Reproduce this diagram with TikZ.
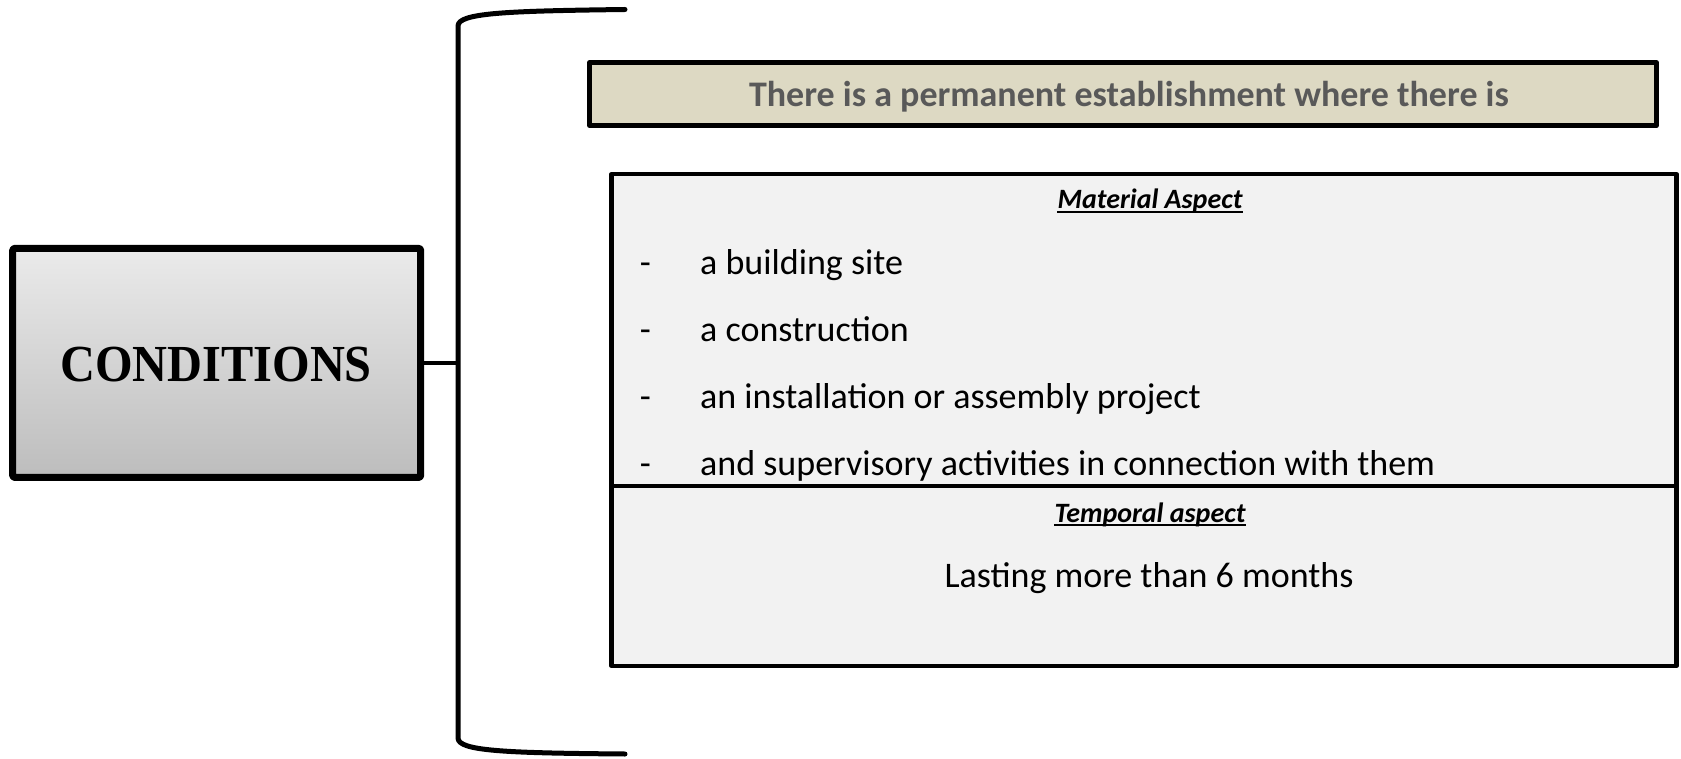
\documentclass[tikz,border=0pt]{standalone}
\usepackage{fontspec}
\usepackage{graphicx}
\setmainfont{Carlito}
\newfontfamily\condfont{Liberation Serif}
\usetikzlibrary{shadows}
\definecolor{titlefill}{HTML}{DDD9C3}
\definecolor{titletext}{HTML}{595959}
\definecolor{boxfill}{HTML}{F2F2F2}
\tikzset{
  softshadow/.style={drop shadow={shadow xshift=1.5pt,shadow yshift=-2.5pt,opacity=.35}},
  condbox/.style={draw,line width=7pt,rounded corners=1.5pt,top color=black!8,bottom color=black!26,
    minimum width=408,minimum height=229,inner sep=0pt,softshadow},
  titlebox/.style={draw,line width=4.5pt,fill=titlefill,minimum width=1067,minimum height=63,inner sep=0pt,softshadow},
  aspectbox/.style={draw,line width=4.5pt,fill=boxfill,minimum width=1065,inner sep=0pt},
  plaintxt/.style={font=\fontsize{36}{40}\selectfont,inner sep=0pt},
  headtxt/.style={font=\fontsize{28}{32}\selectfont\bfseries\itshape,inner sep=0pt,anchor=base},
}
\begin{document}
\begin{tikzpicture}[x=1pt,y=-1pt,line join=round,line cap=round]
\useasboundingbox (0,0) rectangle (1681,759);
% left box and brace
\node[condbox] (cond) at (216.7,362.9) {};
\node[anchor=base,inner sep=0pt,font=\fontsize{52}{56}\selectfont\condfont\bfseries] (condtxt) at (216,381.7) {\scalebox{.93}[1]{CONDITIONS}};
\coordinate (bracetop) at (458,26);
\coordinate (bracebot) at (458,738);
\draw[line width=5pt] (625,9.5) .. controls (505,11) and (458,13) .. (bracetop) -- (bracebot) .. controls (458,751) and (505,753) .. (625,754);
\draw[line width=4pt,line cap=butt] (cond.east) -- (cond.east -| bracetop);
% title
\node[titlebox] (title) at (1123,94) {};
\node[anchor=base,inner sep=0pt,text=titletext,font=\fontsize{36}{40}\selectfont\bfseries] (titletxt) at (1129,106.7) {There is a permanent establishment where there is};
% material aspect
\node[aspectbox,minimum height=311.7] (material) at (1144,330.1) {};
\node[headtxt] (mathead) at (1150,209) {Material Aspect};
\draw[line width=1.6pt,line cap=butt] ([yshift=-3pt]mathead.base west) -- ([yshift=-3pt]mathead.base east);
\foreach \txt [count=\i] in {a building site, a construction, an installation or assembly project, and supervisory activities in connection with them}{
  \node[plaintxt,anchor=base] (dash\i) at (645.5,{275+66.7*(\i-1)}) {-};
  \node[plaintxt,anchor=base west] (item\i) at (700,{275+66.7*(\i-1)}) {\txt};
}
% temporal aspect
\node[aspectbox,minimum height=179.7] (temporal) at (1144,575.9) {};
\node[headtxt] (temphead) at (1150,522) {Temporal aspect};
\draw[line width=1.6pt,line cap=butt] ([yshift=-3pt]temphead.base west) -- ([yshift=-3pt]temphead.base east);
\node[plaintxt,anchor=base] (lasting) at (1149,587) {Lasting more than 6 months};
\end{tikzpicture}
\end{document}
